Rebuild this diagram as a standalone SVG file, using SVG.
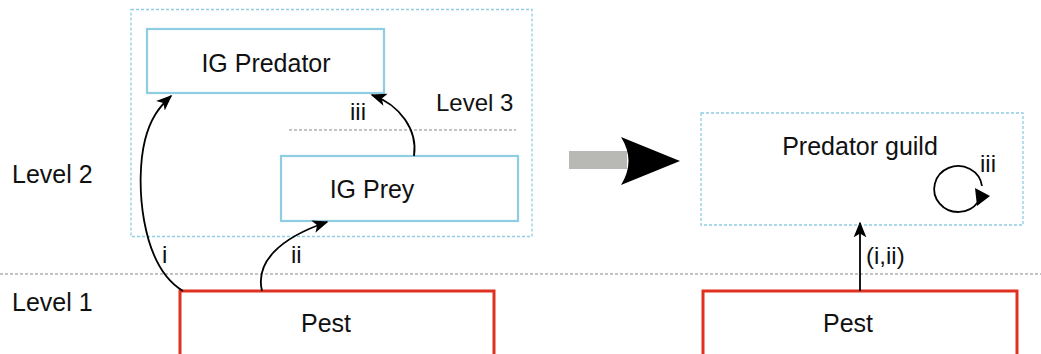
<svg xmlns="http://www.w3.org/2000/svg" width="1041" height="354" viewBox="0 0 1041 354">
<defs>
<style>
.t{font-family:"Liberation Sans",Arial,sans-serif;font-size:25px;fill:#111}
.s{font-family:"Liberation Sans",Arial,sans-serif;font-size:24px;fill:#111}
.blue{fill:#fff;stroke:#8ecde2;stroke-width:2.2}
.dash{fill:none;stroke:#8ecde2;stroke-width:1.3;stroke-dasharray:3 2}
.red{fill:#fff;stroke:#e03020;stroke-width:3}
.lv{stroke:#888;stroke-width:1.2;stroke-dasharray:3 2;fill:none}
.c{fill:none;stroke:#000;stroke-width:1.8}
</style>
<marker id="ah" viewBox="0 0 10 10" refX="9" refY="5" markerWidth="16" markerHeight="16" markerUnits="userSpaceOnUse" orient="auto">
<path d="M0,1 L10,5 L0,9 L2.5,5 Z" fill="#000"/>
</marker>
</defs>
<rect width="1041" height="354" fill="#fff"/>
<line class="lv" x1="0" y1="274" x2="1041" y2="274"/>
<g id="level3box"><rect class="dash" x="131" y="9.5" width="401" height="227"/></g>
<line class="lv" x1="289" y1="130" x2="516" y2="130"/>
<text class="t" x="12" y="183">Level 2</text>
<text class="t" x="12" y="311">Level 1</text>
<text class="s" x="436" y="111">Level 3</text>
<g id="igpred"><rect class="blue" x="147" y="29" width="237" height="64"/><text class="t" x="266" y="72" text-anchor="middle">IG Predator</text></g>
<g id="igprey"><rect class="blue" x="281" y="156" width="237" height="65"/><text class="t" x="372" y="198" text-anchor="middle">IG Prey</text></g>
<g id="pest1"><rect class="red" x="180" y="291" width="314" height="80"/><text class="t" x="326" y="332" text-anchor="middle">Pest</text></g>
<g id="guild"><rect class="dash" x="701" y="113" width="322" height="112"/><text class="t" x="860" y="155" text-anchor="middle">Predator guild</text></g>
<g id="pest2"><rect class="red" x="703" y="291" width="314" height="80"/><text class="t" x="848" y="332" text-anchor="middle">Pest</text></g>
<g id="bigarrow">
<rect x="569" y="151" width="58" height="18" fill="#b8b8b4"/>
<path d="M621,137 L680,161 L621,185 Q636,161 621,137 Z" fill="#000"/>
</g>
<g id="connectors">
<path class="c" d="M183,291 C140,265 135,180 145,140 C150,120 158,108 171,96" marker-end="url(#ah)"/>
<path class="c" d="M262,291 C255,262 280,238 327,222" marker-end="url(#ah)"/>
<path class="c" d="M414,156 C418,130 400,105 372,95" marker-end="url(#ah)"/>
<path class="c" d="M860,291 L860,223" marker-end="url(#ah)"/>
<path class="c" d="M982,186 A24,23 0 1 0 978,202"/>
<path d="M975,188 L990,196 L977,206 Z" fill="#000"/>
</g>
<text class="s" x="162" y="263">i</text>
<text class="s" x="291" y="263">ii</text>
<text class="s" x="350" y="120">iii</text>
<text class="s" x="866" y="264">(i,ii)</text>
<text class="s" x="980" y="172">iii</text>
</svg>
